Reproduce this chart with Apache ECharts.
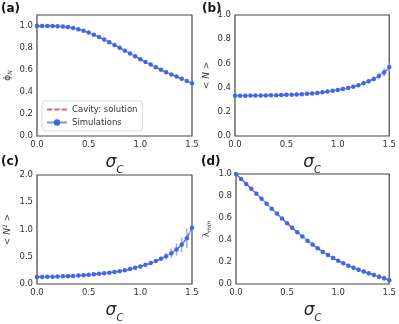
<!DOCTYPE html>
<html>
<head>
<meta charset="utf-8">
<script src="https://cdn.jsdelivr.net/npm/echarts@6/dist/echarts.min.js"></script>
<style>
  html, body { margin: 0; padding: 0; background: #fff; }
  #chart { width: 399px; height: 324px; }
</style>
</head>
<body>
<div id="chart"></div>
<script>
// sigma_c grid of the simulations
var sigma = [0.00, 0.05, 0.10, 0.15, 0.20, 0.25, 0.30, 0.35, 0.40, 0.45, 0.50,
             0.55, 0.60, 0.65, 0.70, 0.75, 0.80, 0.85, 0.90, 0.95, 1.00,
             1.05, 1.10, 1.15, 1.20, 1.25, 1.30, 1.35, 1.40, 1.45, 1.50];

// (a) phi_N
var phiSim = [1.000, 1.000, 1.000, 0.999, 0.998, 0.995, 0.990, 0.981, 0.970, 0.956, 0.940,
              0.921, 0.900, 0.877, 0.853, 0.828, 0.802, 0.776, 0.750, 0.724, 0.698,
              0.673, 0.649, 0.625, 0.602, 0.580, 0.560, 0.540, 0.520, 0.500, 0.480];
var phiErr = [0.005, 0.005, 0.005, 0.005, 0.005, 0.006, 0.006, 0.007, 0.007, 0.008, 0.008,
              0.009, 0.009, 0.010, 0.010, 0.010, 0.011, 0.011, 0.011, 0.012, 0.012,
              0.012, 0.013, 0.013, 0.013, 0.014, 0.014, 0.014, 0.015, 0.015, 0.015];

// (b) <N>
var nSim = [0.333, 0.333, 0.333, 0.334, 0.334, 0.334, 0.335, 0.336, 0.337, 0.338, 0.340,
            0.341, 0.343, 0.346, 0.349, 0.352, 0.356, 0.361, 0.367, 0.373, 0.380,
            0.388, 0.397, 0.408, 0.420, 0.435, 0.452, 0.472, 0.495, 0.525, 0.570];
var nErr = [0.004, 0.004, 0.004, 0.004, 0.004, 0.004, 0.004, 0.004, 0.004, 0.004, 0.005,
            0.005, 0.005, 0.005, 0.005, 0.006, 0.006, 0.006, 0.007, 0.007, 0.008,
            0.009, 0.010, 0.011, 0.013, 0.015, 0.018, 0.022, 0.028, 0.034, 0.040];

// (c) <N^2>
var n2Sim = [0.130, 0.130, 0.132, 0.134, 0.137, 0.140, 0.144, 0.149, 0.155, 0.162, 0.170,
             0.178, 0.187, 0.197, 0.208, 0.221, 0.236, 0.253, 0.273, 0.296, 0.322,
             0.351, 0.384, 0.421, 0.463, 0.510, 0.565, 0.632, 0.720, 0.840, 1.030];
var n2Err = [0.008, 0.008, 0.008, 0.008, 0.008, 0.008, 0.008, 0.008, 0.008, 0.009, 0.009,
             0.009, 0.010, 0.010, 0.011, 0.011, 0.012, 0.013, 0.014, 0.016, 0.018,
             0.020, 0.024, 0.030, 0.040, 0.060, 0.090, 0.110, 0.140, 0.180, 0.120];

// (d) lambda_min
var lamSim = [1.000, 0.955, 0.910, 0.865, 0.820, 0.775, 0.730, 0.685, 0.640, 0.596, 0.553,
              0.511, 0.471, 0.432, 0.394, 0.358, 0.324, 0.292, 0.263, 0.236, 0.211,
              0.188, 0.167, 0.148, 0.130, 0.113, 0.097, 0.082, 0.067, 0.052, 0.035];
var lamErr = [0.006, 0.006, 0.006, 0.006, 0.006, 0.006, 0.006, 0.006, 0.006, 0.007, 0.007,
              0.007, 0.008, 0.008, 0.009, 0.010, 0.011, 0.012, 0.013, 0.014, 0.015,
              0.016, 0.017, 0.018, 0.019, 0.020, 0.021, 0.022, 0.022, 0.023, 0.024];

var panels = [
  { tag: '(a)', sim: phiSim, err: phiErr, yMax: 1.1, yInt: 0.2, name: '{g|ϕ}{s|N}',
    grid: { left: 37, top: 15, width: 155, height: 121 }, tagPos: [1, 3] },
  { tag: '(b)', sim: nSim, err: nErr, yMax: 1.0, yInt: 0.2, name: '{g|< }{i|N}{g| >}',
    grid: { left: 235, top: 15, width: 155, height: 121 }, tagPos: [202, 3] },
  { tag: '(c)', sim: n2Sim, err: n2Err, yMax: 2.0, yInt: 0.5, name: '{g|< }{i|N}{p|2}{g| >}',
    grid: { left: 37, top: 175, width: 155, height: 118 }, tagPos: [1, 156] },
  { tag: '(d)', sim: lamSim, err: lamErr, yMax: 1.0, yInt: 0.2, name: '{g|λ}{s|min}',
    grid: { left: 236, top: 174, width: 154, height: 118 }, tagPos: [201, 156] }
];

var FONT = 'DejaVu Sans';
var BLUE = '#3f68e8';
var RED = '#e0607e';

function renderErr(params, api) {
  var p1 = api.coord([api.value(0), api.value(1)]);
  var p2 = api.coord([api.value(0), api.value(2)]);
  return {
    type: 'line',
    shape: { x1: p1[0], y1: p1[1], x2: p2[0], y2: p2[1] },
    style: { stroke: '#7b98f2', lineWidth: 1.5, opacity: 0.8 }
  };
}

var option = {
  backgroundColor: '#fff',
  animation: false,
  textStyle: { fontFamily: FONT },
  grid: [], xAxis: [], yAxis: [], series: [], graphic: [],
  legend: {
    left: 42, top: 101,
    orient: 'vertical',
    itemWidth: 20, itemHeight: 8, itemGap: 4,
    padding: [4, 5, 4, 4],
    backgroundColor: '#fff',
    borderColor: '#ddd', borderWidth: 1, borderRadius: 3,
    textStyle: { fontFamily: FONT, fontSize: 8.5, color: '#333' },
    data: [
      { name: 'Cavity: solution', icon: 'path://M0,3L6,3L6,5L0,5Z M8,3L14,3L14,5L8,5Z M16,3L22,3L22,5L16,5Z' },
      { name: 'Simulations' }
    ]
  }
};

panels.forEach(function (p, k) {
  option.grid.push(Object.assign({ show: true, borderColor: '#444', borderWidth: 1.2, backgroundColor: '#fff' }, p.grid));
  option.xAxis.push({
    type: 'value', gridIndex: k, min: 0, max: 1.5, interval: 0.5,
    axisLine: { show: false }, axisTick: { show: false }, splitLine: { show: false },
    axisLabel: { fontSize: 8.5, color: '#333', margin: 4, fontFamily: FONT,
                 formatter: function (v) { return v.toFixed(1); } },
    name: '{s|σ}{c|C}', nameLocation: 'middle', nameGap: 18,
    nameTextStyle: { rich: {
      s: { fontSize: 17, fontStyle: 'italic', fontFamily: FONT, color: '#222', verticalAlign: 'bottom' },
      c: { fontSize: 10, fontStyle: 'italic', fontFamily: FONT, color: '#222', verticalAlign: 'bottom', padding: [0, 0, -4, 0] }
    } }
  });
  option.yAxis.push({
    type: 'value', gridIndex: k, min: 0, max: p.yMax, interval: p.yInt,
    axisLine: { show: false }, axisTick: { show: false }, splitLine: { show: false },
    axisLabel: { fontSize: 8.5, color: '#333', margin: 4, fontFamily: FONT, showMaxLabel: p.yMax === 1.1 ? false : true,
                 formatter: function (v) { return v.toFixed(1); } },
    name: p.name, nameLocation: 'middle', nameGap: 24, nameRotate: 90,
    nameTextStyle: { rich: {
      g: { fontSize: 9, fontFamily: FONT, color: '#333' },
      i: { fontSize: 9, fontFamily: FONT, fontStyle: 'italic', color: '#333' },
      s: { fontSize: 6, fontFamily: FONT, fontStyle: 'italic', color: '#333', padding: [4, 0, 0, 0] },
      p: { fontSize: 6, fontFamily: FONT, color: '#333', padding: [0, 0, 5, 0] }
    } }
  });
  var pts = sigma.map(function (s, i) { return [s, p.sim[i]]; });
  var bars = sigma.map(function (s, i) { return [s, p.sim[i] - p.err[i], p.sim[i] + p.err[i]]; });
  option.series.push({
    name: 'Cavity: solution', type: 'line', xAxisIndex: k, yAxisIndex: k,
    data: pts, showSymbol: false, symbol: 'none',
    lineStyle: { color: RED, width: 1.5, type: [5, 3] }, itemStyle: { color: RED }, z: 2
  });
  option.series.push({
    name: 'Simulations', type: 'line', xAxisIndex: k, yAxisIndex: k,
    data: pts, symbol: 'circle', symbolSize: 4.5,
    lineStyle: { color: BLUE, width: 1.2, opacity: 0.7 },
    itemStyle: { color: BLUE }, z: 4
  });
  option.series.push({
    type: 'custom', xAxisIndex: k, yAxisIndex: k,
    renderItem: renderErr, data: bars, z: 3, silent: true
  });
  option.graphic.push({
    type: 'text', left: p.tagPos[0], top: p.tagPos[1],
    style: { text: p.tag, fontFamily: FONT, fontWeight: 'bold', fontSize: 12, fill: '#111' }
  });
});

var chart = echarts.init(document.getElementById('chart'), null, { renderer: 'canvas' });
chart.setOption(option);
</script>
</body>
</html>
